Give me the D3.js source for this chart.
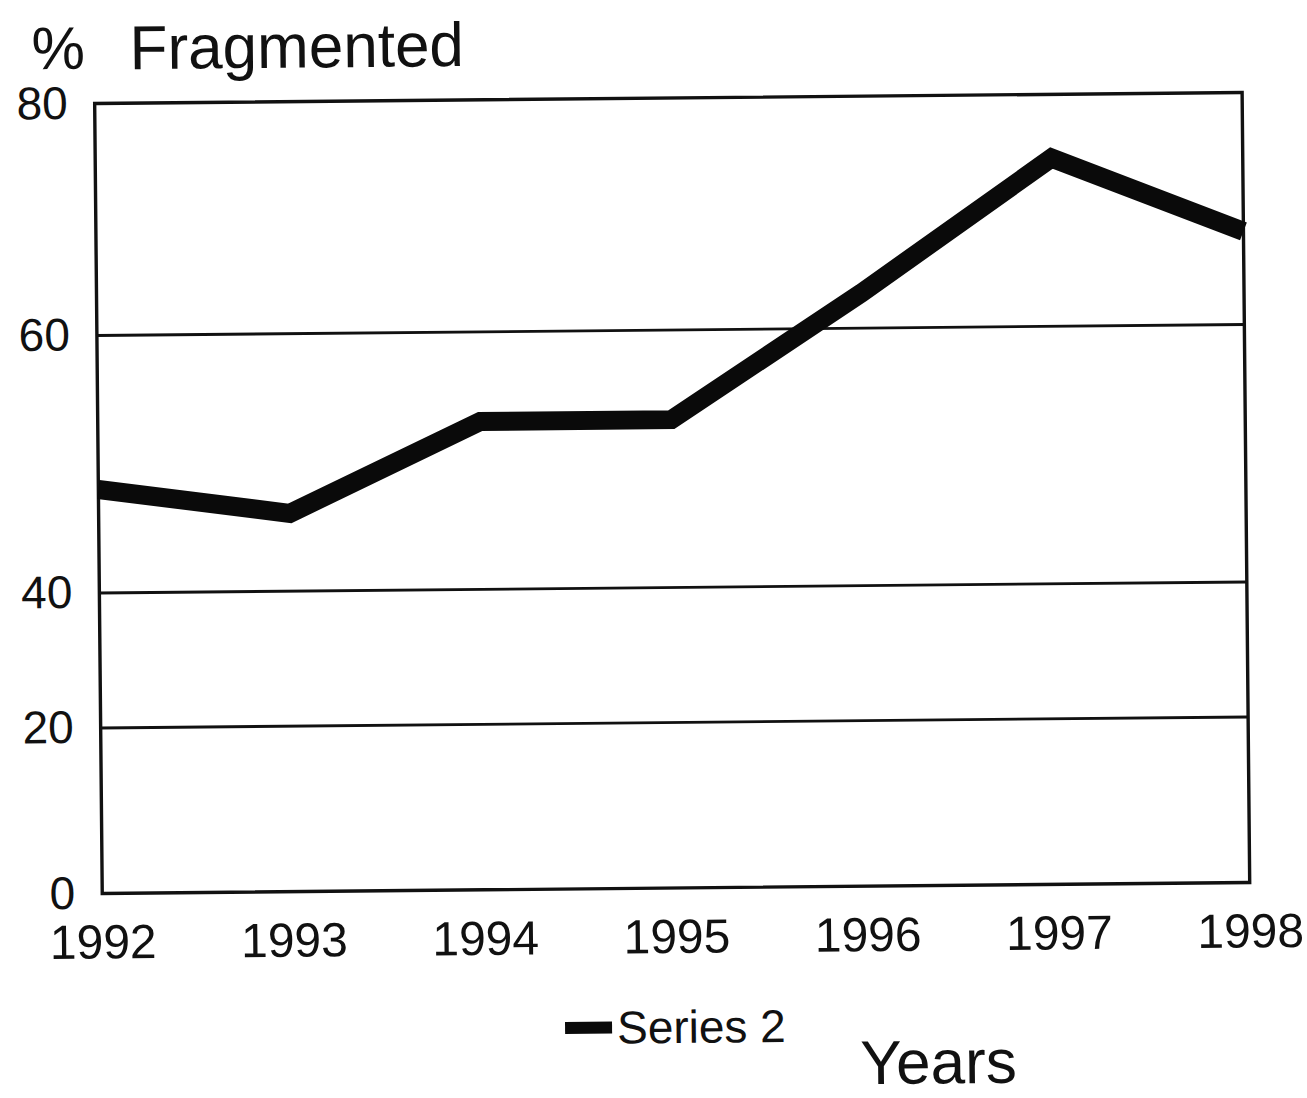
<!DOCTYPE html>
<html>
<head>
<meta charset="utf-8">
<script src="https://cdn.jsdelivr.net/npm/d3@7"></script>
<style>
  body { margin: 0; background: #fff; }
  text { font-family: "Liberation Sans", Arial, sans-serif; fill: #111; }
</style>
</head>
<body>
<svg width="1307" height="1098"></svg>
<script>
var years = ["1992", "1993", "1994", "1995", "1996", "1997", "1998"]
var fragmented = [48, 46, 53, 53, 63, 74.5, 68]
var yTicks = [0, 20, 40, 60, 80]
var gridTicks = [20, 40, 60]
var seriesName = "Series 2"

var left = 98.5, right = 1246
// the printed y axis is not evenly spaced, so the scale is piecewise
var ys = d3.scaleLinear().domain([0, 20, 40, 60, 80]).range([888, 722, 587, 329.5, 98])
var xs = d3.scalePoint().domain(years).range([left, right])

var svg = d3.select("svg")
// scanned page is slightly tilted
var gee = svg.append("g").attr("transform", "rotate(-0.55,672,500)")

// gridlines
gee.append("g")
  .attr("transform", "translate(" + left + ",0)")
  .call(d3.axisLeft(ys).tickValues(gridTicks).tickSize(-(right - left)).tickFormat(""))
  .call(function(g){ g.select(".domain").remove() })
  .selectAll("line").attr("stroke", "#111").attr("stroke-width", 2.8)

// frame
gee.append("rect")
  .attr("x", left).attr("y", ys(80))
  .attr("width", right - left).attr("height", ys(0) - ys(80))
  .attr("fill", "none").attr("stroke", "#111").attr("stroke-width", 3.4)

// y labels
gee.append("g")
  .attr("transform", "translate(" + left + ",0)")
  .call(d3.axisLeft(ys).tickValues(yTicks).tickSize(0).tickPadding(27))
  .call(function(g){ g.select(".domain").remove() })
  .selectAll("text").attr("font-size", 46).attr("font-family", null).attr("fill", "#111")

// x labels
gee.append("g")
  .attr("transform", "translate(0," + ys(0) + ")")
  .call(d3.axisBottom(xs).tickSize(0).tickPadding(31))
  .call(function(g){ g.select(".domain").remove() })
  .selectAll("text").attr("font-size", 48).attr("font-family", null).attr("fill", "#111")

// the series
var line = d3.line()
  .x(function(d,i){ return xs(years[i]) })
  .y(function(d){ return ys(d) })

gee.append("path")
  .datum(fragmented)
  .attr("d", line)
  .attr("fill", "none")
  .attr("stroke", "#0a0a0a")
  .attr("stroke-width", 19)
  .attr("stroke-linejoin", "miter")

// title
var title = gee.append("text").attr("x", 36).attr("y", 63)
title.append("tspan").attr("font-size", 60).text("%")
title.append("tspan").attr("x", 134).attr("y", 64).attr("font-size", 62).text("Fragmented")

// legend
gee.append("line")
  .attr("x1", 560).attr("x2", 607).attr("y1", 1027).attr("y2", 1027)
  .attr("stroke", "#0a0a0a").attr("stroke-width", 12)
gee.append("text")
  .attr("x", 612).attr("y", 1043)
  .attr("font-size", 46)
  .text(seriesName)

gee.append("text")
  .attr("x", 855).attr("y", 1086)
  .attr("font-size", 62)
  .text("Years")
</script>
</body>
</html>
